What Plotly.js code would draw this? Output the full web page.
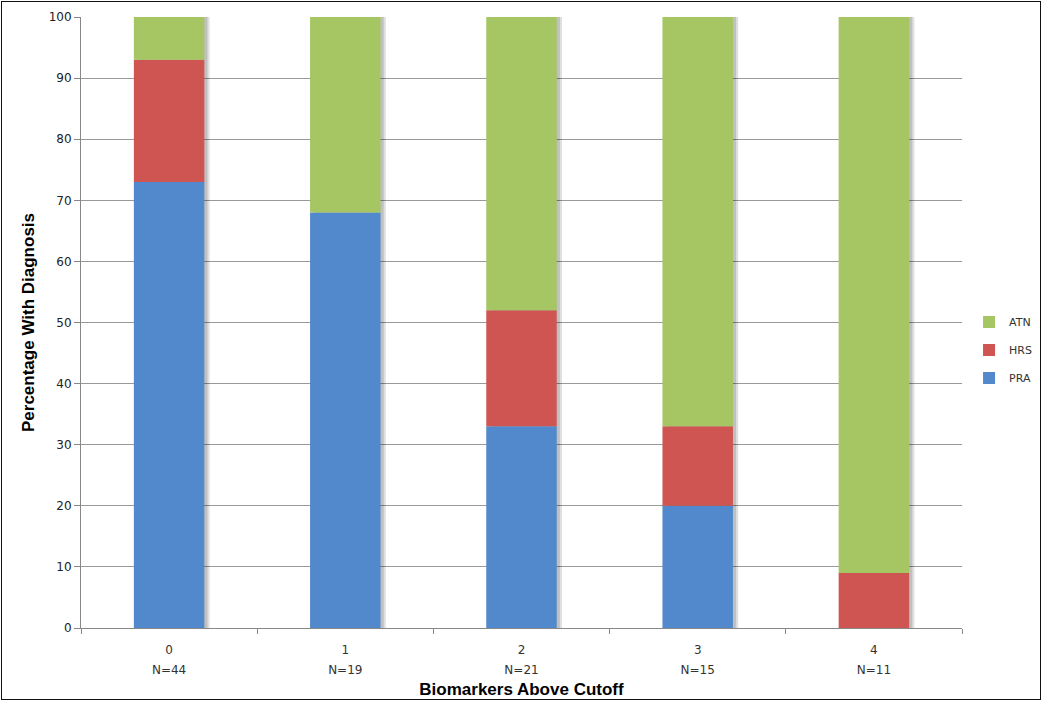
<!DOCTYPE html>
<html>
<head>
<meta charset="utf-8">
<script src="https://cdn.plot.ly/plotly-3.0.1.min.js"></script>
<style>
  html, body { margin: 0; padding: 0; background: #ffffff; }
  #chart { position: absolute; left: 0; top: 0; width: 1050px; height: 709px; }
  #frame { position: absolute; left: 1px; top: 1px; width: 1038px; height: 697px; border: 1px solid #111; pointer-events: none; }
</style>
</head>
<body>
<div id="chart"></div>
<div id="frame"></div>
<script>
// ---- Data ----
const categories = [0, 1, 2, 3, 4];
const catLabels = ["0", "1", "2", "3", "4"];
const nLabels = ["N=44", "N=19", "N=21", "N=15", "N=11"];
const PRA = [73, 68, 33, 20, 0];
const HRS = [20, 0, 19, 13, 9];
const ATN = [7, 32, 48, 67, 91];

const colors = { PRA: "#5289cc", HRS: "#cf5552", ATN: "#a5c662" };

// cumulative bases from data
const baseHRS = PRA.map((v) => v);
const baseATN = PRA.map((v, i) => v + HRS[i]);
const totals = PRA.map((v, i) => v + HRS[i] + ATN[i]);

const W = 0.4;
const traces = [
  { type: "bar", x: categories, y: totals, base: categories.map(() => 0), width: W, offset: -W/2 + 0.03,
    marker: { color: "rgba(0,0,0,0.12)" }, showlegend: false, hoverinfo: "skip" },
  { type: "bar", x: categories, y: totals, base: categories.map(() => 0), width: W, offset: -W/2 + 0.018,
    marker: { color: "rgba(0,0,0,0.14)" }, showlegend: false, hoverinfo: "skip" },
  { type: "bar", name: "PRA", legendgroup: "a", legendrank: 3, x: categories, y: PRA, width: W, offset: -W/2,
    marker: { color: colors.PRA } },
  { type: "bar", name: "HRS", legendgroup: "b", legendrank: 2, x: categories, y: HRS, base: baseHRS, width: W, offset: -W/2,
    marker: { color: colors.HRS } },
  { type: "bar", name: "ATN", legendgroup: "c", legendrank: 1, x: categories, y: ATN, base: baseATN, width: W, offset: -W/2,
    marker: { color: colors.ATN } }
];

const xr = [-0.5, 4.5];
const titleFont = { family: "Liberation Sans, Arial, sans-serif", size: 17, color: "#000", weight: "bold" };
const layout = {
  width: 1050, height: 709,
  margin: { l: 81, r: 88, t: 17, b: 81 },
  paper_bgcolor: "#ffffff", plot_bgcolor: "#ffffff",
  barmode: "overlay",
  font: { family: "DejaVu Sans, Tahoma, sans-serif", color: "#333", size: 12 },
  xaxis: {
    range: xr, tickvals: [-0.5, 0.5, 1.5, 2.5, 3.5, 4.5], ticktext: ["", "", "", "", "", ""],
    ticks: "outside", ticklen: 5, tickcolor: "#888", showgrid: false, zeroline: false,
    showline: true, linecolor: "#888", linewidth: 1,
    title: { text: "Biomarkers Above Cutoff", font: titleFont, standoff: 47 }
  },
  xaxis2: {
    overlaying: "x", anchor: "y", side: "bottom", range: xr,
    tickvals: categories, ticktext: catLabels, ticks: "", showgrid: false, zeroline: false, showline: false,
    ticklabelstandoff: 13, tickfont: { size: 12, color: "#333" }
  },
  xaxis3: {
    overlaying: "x", anchor: "y", side: "bottom", range: xr,
    tickvals: categories, ticktext: nLabels, ticks: "", showgrid: false, zeroline: false, showline: false,
    ticklabelstandoff: 33, tickfont: { size: 12, color: "#333" }
  },
  yaxis: {
    range: [0, 100], tickvals: [0,10,20,30,40,50,60,70,80,90,100],
    ticks: "outside", ticklen: 6, tickcolor: "#888", showgrid: true, gridcolor: "#999", gridwidth: 1,
    zeroline: false, showline: true, linecolor: "#888", linewidth: 1,
    tickfont: { size: 12, color: "#222" },
    title: { text: "Percentage With Diagnosis", font: titleFont, standoff: 9 }
  },
  showlegend: true,
  legend: {
    x: 1.008, xanchor: "left", y: 0.455, yanchor: "middle",
    traceorder: "grouped", tracegroupgap: 9,
    font: { size: 11, color: "#333" }, bgcolor: "rgba(0,0,0,0)", itemwidth: 30
  }
};

traces.push({ type: "scatter", x: [0], y: [0], xaxis: "x2", yaxis: "y", mode: "markers", marker: { opacity: 0 }, showlegend: false, hoverinfo: "skip" });
traces.push({ type: "scatter", x: [0], y: [0], xaxis: "x3", yaxis: "y", mode: "markers", marker: { opacity: 0 }, showlegend: false, hoverinfo: "skip" });

Plotly.newPlot("chart", traces, layout, { displayModeBar: false, staticPlot: true });
</script>
</body>
</html>
